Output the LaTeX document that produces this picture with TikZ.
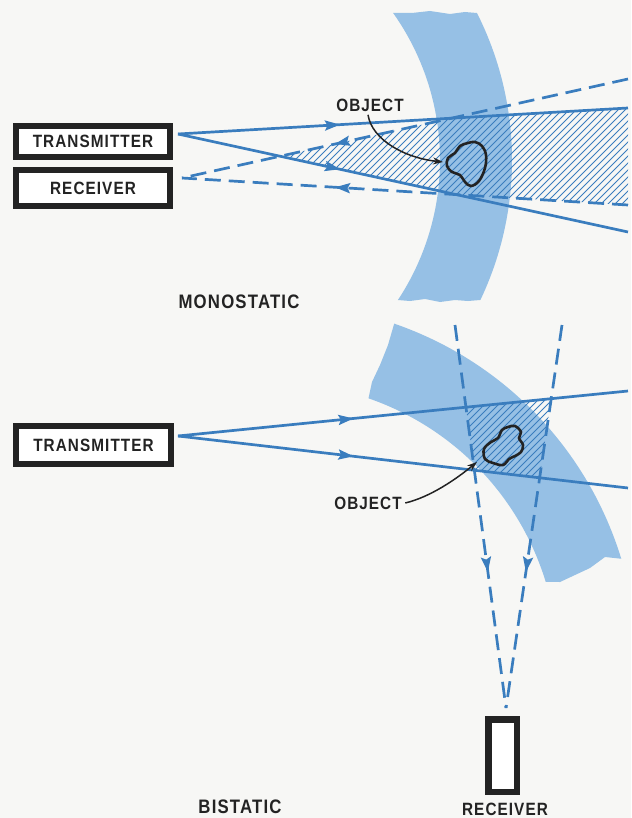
\documentclass[tikz,border=0pt]{standalone}
\usepackage{fontspec}
\setmainfont{Liberation Sans}
\newfontfamily\signfont{Liberation Sans}[FakeStretch=0.86, LetterSpace=6]
\usetikzlibrary{arrows.meta,decorations.markings,calc}

\definecolor{paper}{RGB}{247,247,245}
\definecolor{bandblue}{RGB}{150,192,229}
\definecolor{beamblue}{RGB}{58,125,190}
\definecolor{ink}{RGB}{35,35,35}

\tikzset{
  beam/.style={draw=beamblue, line width=2.7pt},
  dashbeam/.style={beam, dash pattern=on 16pt off 8pt},
  midarrow/.style={postaction={decorate},
    decoration={markings, mark=at position #1 with {\arrow{Stealth[length=15pt,width=10pt,inset=2.5pt]}}}},
  unitbox/.style={draw=ink, fill=white, inner sep=0pt},
  lbl/.style={text=ink, font=\signfont\bfseries\fontsize{17.8}{19}\selectfont},
  heading/.style={text=ink, font=\signfont\bfseries\fontsize{19.5}{21}\selectfont},
  band/.style={fill=bandblue},
  hatchline/.style={draw=beamblue, line width=0.9pt},
  blob/.style={draw=ink, line width=2.6pt},
  pointer/.style={draw=ink, line width=1.5pt, -{Stealth[length=10pt,width=7pt]}},
}

\begin{document}
\begin{tikzpicture}[x=1pt,y=-1pt]
\useasboundingbox (0,0) rectangle (631,818);
\fill[paper] (0,0) rectangle (631,818);

% ---------- monostatic ----------
% curved layer
\fill[band] plot[domain=-35.37:33.45, samples=50] ({186+254*cos(\x)},{160+254*sin(\x)})
  -- (410,301) -- (425,299) -- (440,302) -- (455,300) -- (468,301)
  -- plot[domain=25.43:-26.8, samples=50] ({186+326*cos(\x)},{160+326*sin(\x)})
  -- (465,12) -- (450,14) -- (430,11) -- (412,13) -- cycle;

\coordinate (m-t)  at (178,134);
\coordinate (m-tu) at (628,108);
\coordinate (m-tl) at (628,232);
\coordinate (m-r)  at (182,178);
\coordinate (m-ru) at (628,79);
\coordinate (m-rl) at (628,205);

% common volume of both beams
\begin{scope}
  \clip (m-t) -- (m-tu) -- (m-tl) -- cycle;
  \clip (m-r) -- (m-ru) -- (m-rl) -- cycle;
  \foreach \c in {350,357,...,900} \draw[hatchline] (\c,0) -- ++(-400,400);
\end{scope}

\draw[beam, midarrow=0.36] (m-t) -- (m-tu);
\draw[beam, midarrow=0.36] (m-t) -- (m-tl);
\draw[dashbeam, midarrow=0.657] (m-ru) -- (m-r);
\draw[dashbeam, midarrow=0.657] (m-rl) -- (m-r);

\draw[blob] plot[smooth cycle, tension=0.6] coordinates {(468,143) (460,146) (455,153) (448,158) (447,166) (452,172) (460,175) (465,182) (471,186) (479,181) (485,168) (486,155) (482,146) (475,142)};

\node[unitbox, line width=6pt, minimum width=154pt, minimum height=31pt, lbl] (tx1) at (93,141.5) {TRANSMITTER};
\node[unitbox, line width=6pt, minimum width=154pt, minimum height=36pt, lbl] (rx1) at (93,188) {RECEIVER};

\node[lbl] (obj1) at (370,105) {OBJECT};
\draw[pointer] ([xshift=-2pt]obj1.south) .. controls (372,140) and (405,158) .. (443,162);

\node[heading] (mono) at (239,302) {MONOSTATIC};

% ---------- bistatic ----------
\fill[band] plot[domain=-71:-17, samples=50] ({277+281*cos(\x)},{664+281*sin(\x)})
  -- (560,582) -- (575,575) -- (590,568) -- (605,557)
  -- plot[domain=-17:-71, samples=50] ({277+360*cos(\x)},{664+360*sin(\x)})
  -- (388,345) -- (380,365) -- (372,382) -- cycle;

\coordinate (b-t)  at (178,436);
\coordinate (b-tu) at (628,391);
\coordinate (b-tl) at (628,488);
\coordinate (b-ra) at (455,325);
\coordinate (b-rb) at (562,325);
\coordinate (b-r)  at (506,708);

\begin{scope}
  \clip (b-t) -- (b-tu) -- (b-tl) -- cycle;
  \clip (b-ra) -- (b-rb) -- (b-r) -- cycle;
  \foreach \c in {840,847,...,1060} \draw[hatchline] (\c,0) -- ++(-700,700);
\end{scope}

\draw[beam, midarrow=0.39] (b-t) -- (b-tu);
\draw[beam, midarrow=0.39] (b-t) -- (b-tl);
\draw[dashbeam, midarrow=0.645] (b-ra) -- (b-r);
\draw[dashbeam, midarrow=0.645] (b-rb) -- (b-r);

\draw[blob] plot[smooth cycle, tension=0.6] coordinates {(508,427) (502,430) (498,438) (491,442) (484,449) (485,459) (493,463) (503,465) (509,459) (515,456) (521,452) (523,445) (519,438) (521,432) (515,426)};

\node[unitbox, line width=6pt, minimum width=155pt, minimum height=38pt, lbl] (tx2) at (93.5,445) {TRANSMITTER};
\node[unitbox, line width=6.5pt, minimum width=28.5pt, minimum height=72.5pt] (rx2) at (502.5,755.5) {};

\node[lbl] (obj2) at (368,503) {OBJECT};
\draw[pointer] (obj2.east) .. controls (430,497) and (455,480) .. (477,462);

\node[lbl] (rx2lbl) at (505,809) {RECEIVER};
\node[heading] (bi) at (240,807) {BISTATIC};
\end{tikzpicture}
\end{document}
